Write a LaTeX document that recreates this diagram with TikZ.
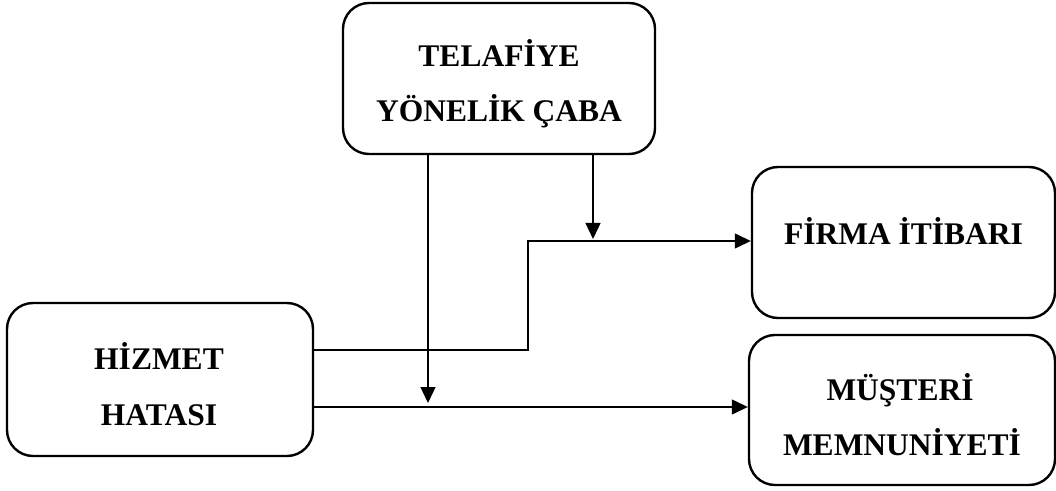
\documentclass[tikz,border=0pt]{standalone}
\usepackage{fontspec}
\setmainfont{Liberation Serif}
\usetikzlibrary{arrows.meta}
\begin{document}
\begin{tikzpicture}[x=1pt,y=1pt,
  box/.style={draw=black, line width=2.4pt, rounded corners=26pt, inner sep=0pt},
  lbl/.style={anchor=base, inner sep=0pt, font=\fontsize{31.5}{36}\selectfont\bfseries},
  link/.style={draw=black, line width=1.3pt, -{Triangle[length=16pt,width=15pt]}}]
\useasboundingbox (0,0) rectangle (1056,490);

% boxes
\node[box, minimum width=312pt, minimum height=151pt] (tel) at (499,411.5) {};
\node[box, minimum width=303pt, minimum height=151pt] (fir) at (903.5,247.5) {};
\node[box, minimum width=306pt, minimum height=150pt] (mus) at (902,80) {};
\node[box, minimum width=306pt, minimum height=153pt] (hiz) at (160,110.5) {};

% labels
\node[lbl] (telA) at (499,423) {TELAFİYE};
\node[lbl] (telB) at (499,368) {YÖNELİK ÇABA};
\node[lbl] (firA) at (903.5,245) {FİRMA İTİBARI};
\node[lbl] (musA) at (900,90) {MÜŞTERİ};
\node[lbl] (musB) at (902,35) {MEMNUNİYETİ};
\node[lbl] (hizA) at (159,121) {HİZMET};
\node[lbl] (hizB) at (159,65) {HATASI};

% junction points on the connectors
\coordinate (upperY) at (0,249);
\coordinate (lowerY) at (0,83);
\coordinate (bend) at (528,0);
\coordinate (dropL) at (428,0);
\coordinate (dropR) at (593,0);

% service failure -> firm reputation
\draw[link] (hiz.east |- 0,140) -| (bend |- upperY) -- (fir.west |- upperY);
% service failure -> customer satisfaction
\draw[link] (hiz.east |- lowerY) -- (mus.west |- lowerY);
% recovery effort moderating both paths
\draw[link] (tel.south -| dropL) -- (dropL |- 0,87);
\draw[link] (tel.south -| dropR) -- (dropR |- 0,251);
\end{tikzpicture}
\end{document}
